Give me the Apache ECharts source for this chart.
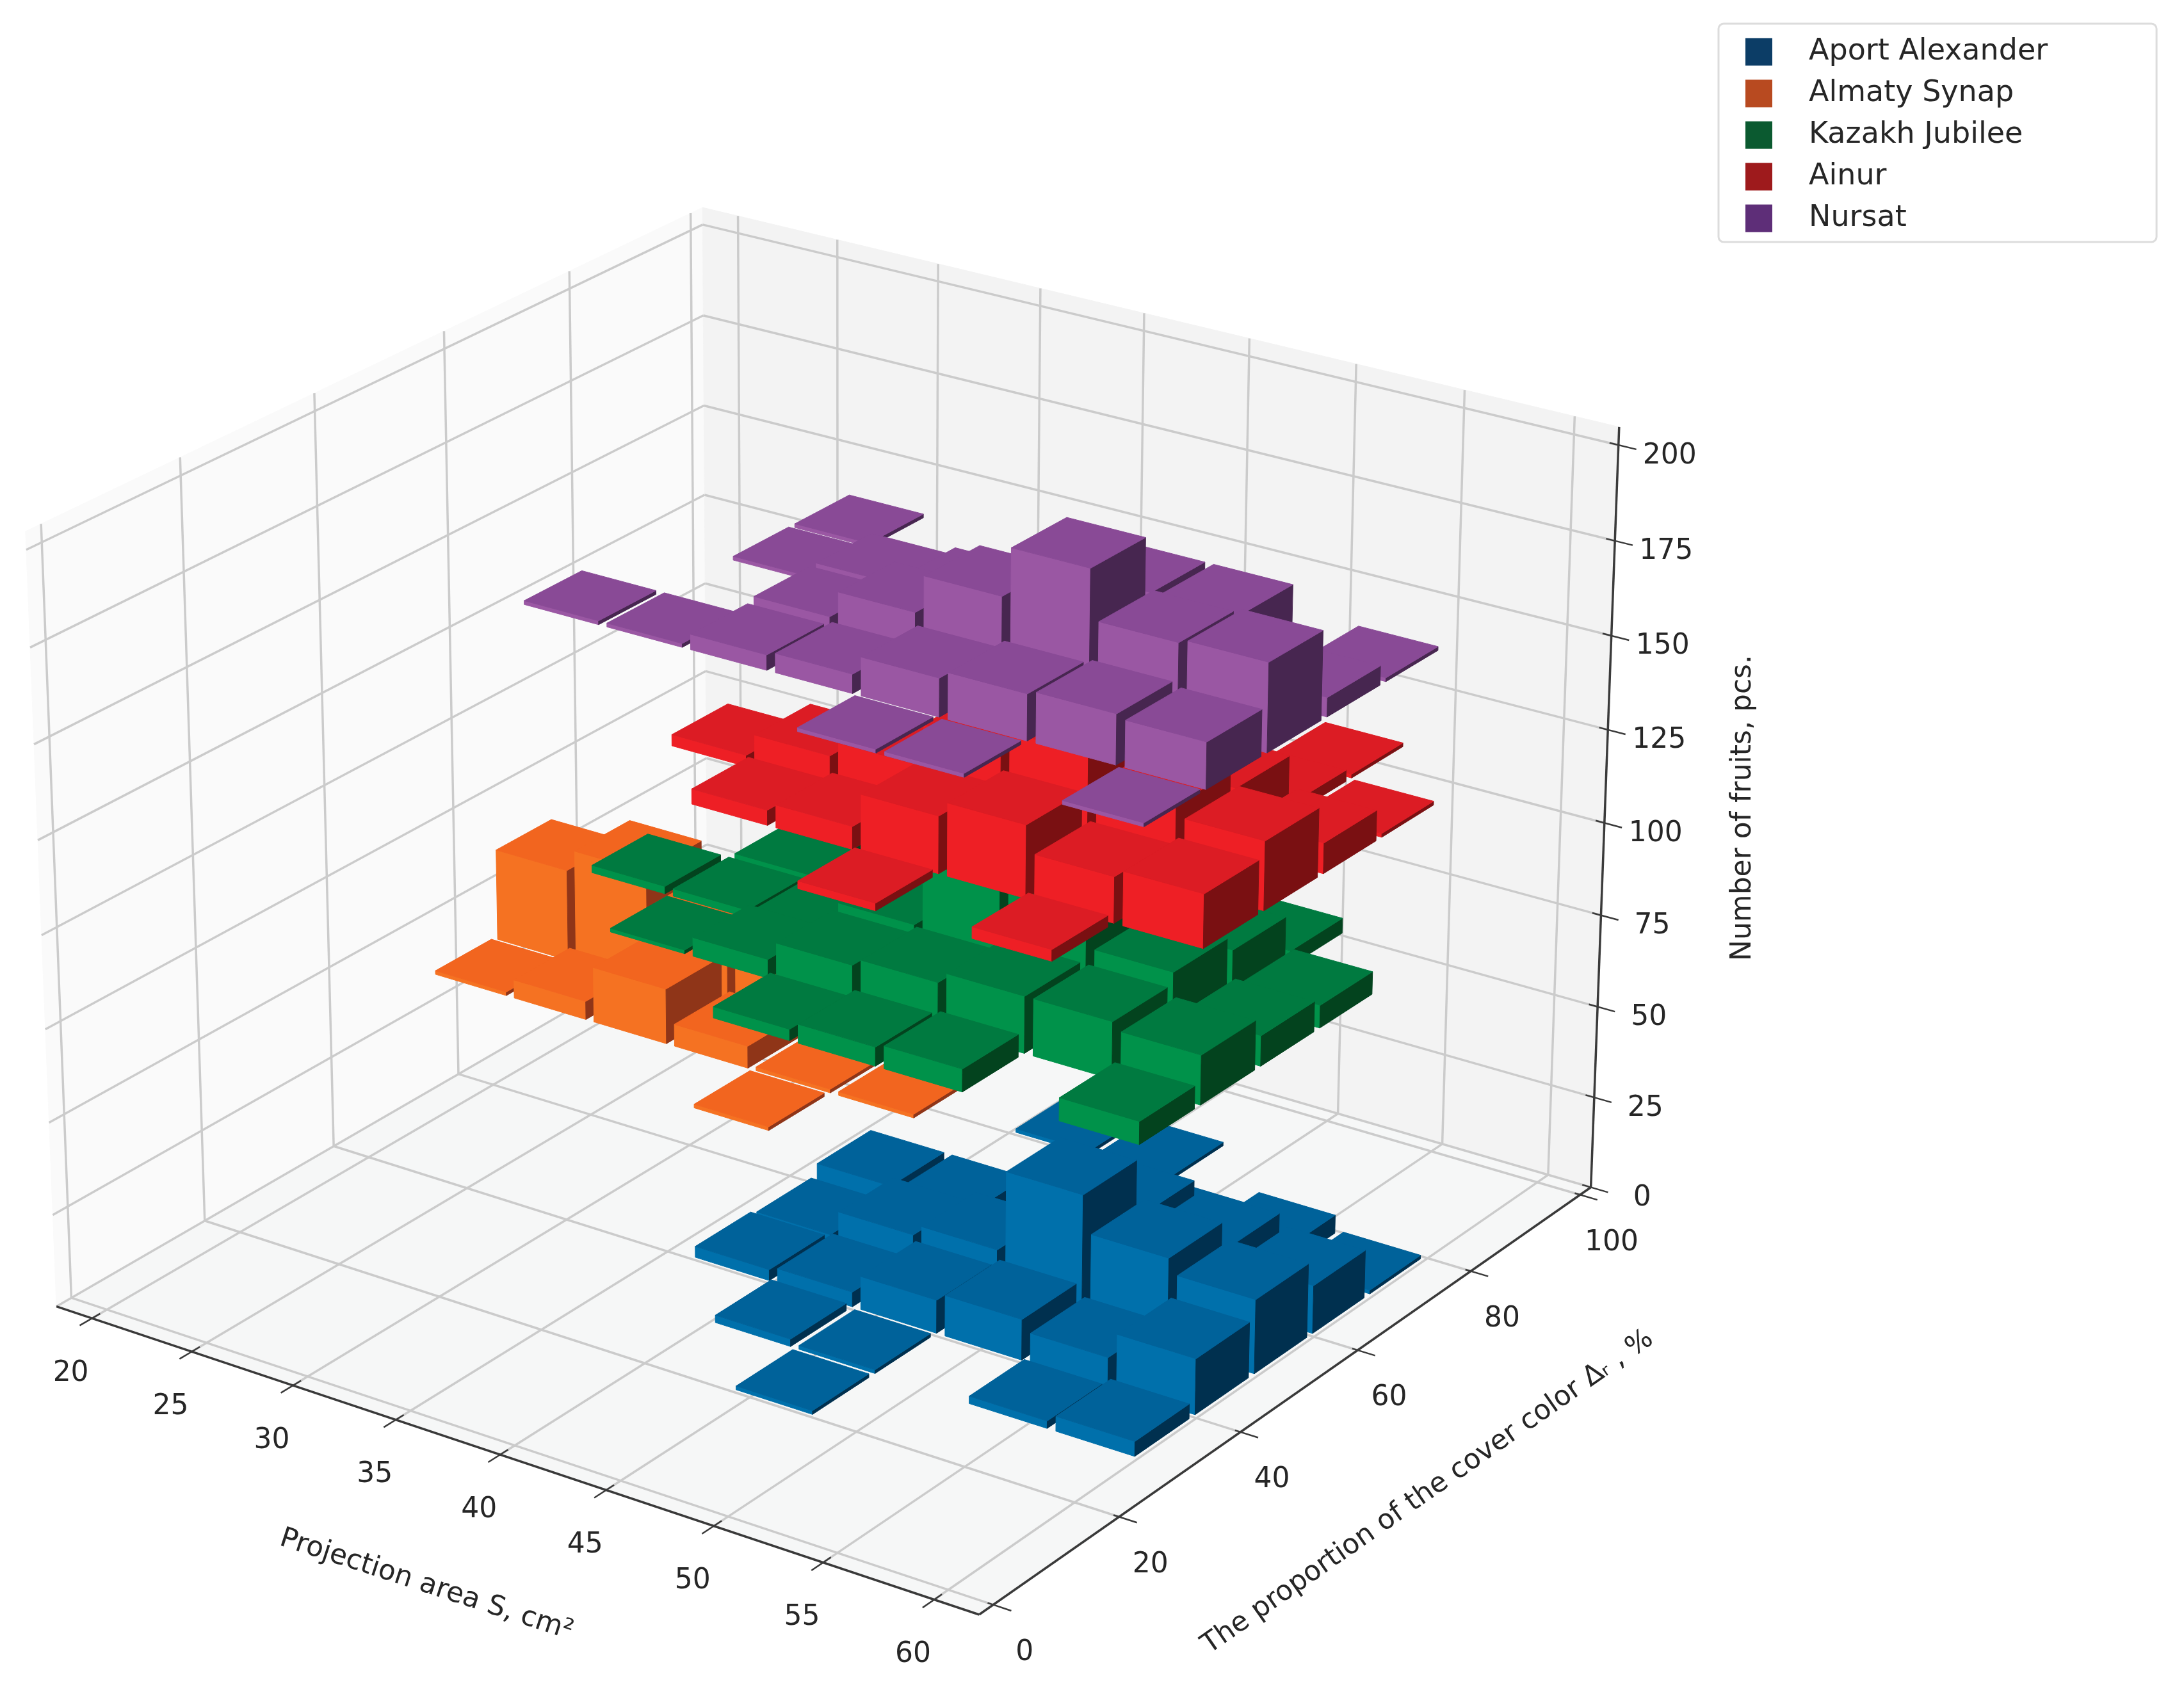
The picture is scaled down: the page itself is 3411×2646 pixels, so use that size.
<!DOCTYPE html>
<html><head><meta charset="utf-8"><style>html,body{margin:0;background:#fff}#c{width:3411px;height:2646px}</style>
<script src="https://cdn.jsdelivr.net/npm/echarts@6/dist/echarts.min.js"></script></head><body><div id="c"></div>
<script>
// Histogram bins and axis ticks
const xBinStart=[20,24,28,32,36,40,44,48,52,56];
const yBinStart=[0,10,20,30,40,50,60,70,80,90];
const xTicks=[20,25,30,35,40,45,50,55,60];
const yTicks=[0,20,40,60,80,100];
const zTicks=[0,25,50,75,100,125,150,175,200];
const varieties=['Aport Alexander','Almaty Synap','Kazakh Jubilee','Ainur','Nursat'];
// Each variety floats on its own level of the vertical axis
const levelBase=[0,41,82,122.5,163];

// Cells per variety: [x bin index, y bin index, number of fruits]
const aportAlexander=[[4,4,3],[4,5,2],[4,6,5],[5,3,2],[5,4,4],[5,5,9],[5,6,5],[5,8,1],[6,2,1],[6,3,1],[6,4,9],[6,5,12],[6,8,1],[7,4,11],[7,5,34],[7,6,18],[7,7,1],[8,3,2],[8,4,8],[8,5,24],[8,6,16],[8,7,5],[9,3,4],[9,4,15],[9,5,20],[9,6,13],[9,7,1]];
const almatySynap=[[0,5,1],[0,6,25],[1,5,5],[1,6,31],[1,8,3],[2,5,15],[2,6,23],[3,5,6],[3,6,14],[4,4,1],[4,5,1],[5,5,1]];
const kazakhJubilee=[[2,5,2],[3,4,1],[3,5,2],[3,6,2],[4,4,5],[4,5,3],[4,6,2],[5,3,3],[5,4,10],[5,5,11],[6,3,5],[6,4,12],[6,5,28],[7,3,6],[7,4,15],[7,5,28],[7,6,10],[8,4,15],[8,5,18],[8,6,14],[8,7,4],[9,3,6],[9,4,13],[9,5,8],[9,6,6]];
const ainur=[[3,5,3],[4,4,4],[4,5,9],[5,4,6],[5,5,13],[6,3,2],[6,4,15],[6,5,24],[7,4,19],[7,5,28],[7,6,12],[8,3,3],[8,4,12],[8,5,21],[8,6,16],[8,7,3],[8,8,1],[9,4,14],[9,5,18],[9,6,8],[9,7,1]];
const nursat=[[2,4,1],[3,4,1],[3,6,1],[3,7,1],[4,4,4],[4,5,5],[4,6,5],[5,4,5],[5,5,12],[5,6,7],[6,3,1],[6,4,10],[6,5,22],[7,3,1],[7,4,12],[7,5,35],[7,6,20],[8,4,13],[8,5,22],[8,6,20],[9,3,1],[9,4,12],[9,5,23],[9,6,5],[9,7,1]];
const cellsByVariety=[aportAlexander,almatySynap,kazakhJubilee,ainur,nursat];

// Shading of a bar: lit top, front face, shaded side; plus the legend swatch
const shades=[
 {top:'#00629a',front:'#0070ab',side:'#00304f',swatch:'#0c3d66'},
 {top:'#f2651f',front:'#f57222',side:'#8f3518',swatch:'#b84a20'},
 {top:'#007a40',front:'#00924a',side:'#03431e',swatch:'#0b5a30'},
 {top:'#dc1c24',front:'#ee1f25',side:'#7a1012',swatch:'#9e1a1c'},
 {top:'#894a96',front:'#9a57a3',side:'#472650',swatch:'#5e2e78'}
];

// Extent of the three panes in data units
const [x0,x1]=[18.2,62],[y0,y1]=[-2.2,102],[z0,z1]=[0,204.7];
const cellFill=0.9;

// Camera calibration: known data points of the box and where they fall on the page
const calib=[[18.2,-2.2,0,87,2040],[62,-2.2,0,1529,2523],[62,102,0,2483,1852],[18.2,-2.2,204.7,42,823],[18.2,102,204.7,1098,323],[62,102,204.7,2530,669],
[20,-2.2,0,146,2061],[60,-2.2,0,1458,2498],[62,0,0,1550,2507],[62,100,0,2472,1864],[62,102,200,2528,696],[18.2,102,200,1098,353],[18.2,102,100,1099,911],[18.2,102,150,1098,634],[18.2,-2.2,200,42,860],
[25,20,0,531,1977],[40,20,0,1008,2130],[55,20,0,1507,2292],[62,20,0,1745,2369],[18.2,60,0,716,1677],[18.2,60,204.7,692,517],[18.2,20,204.7,279,716]];
const nx=x=>(x-40)/22,ny=y=>(y-50)/52,nz=z=>(z-100)/100;
function solve(M,b){const n=b.length;for(let i=0;i<n;i++){let p=i;for(let r=i+1;r<n;r++)if(Math.abs(M[r][i])>Math.abs(M[p][i]))p=r;[M[i],M[p]]=[M[p],M[i]];[b[i],b[p]]=[b[p],b[i]];for(let r=i+1;r<n;r++){const k=M[r][i]/M[i][i];for(let c=i;c<n;c++)M[r][c]-=k*M[i][c];b[r]-=k*b[i]}}const s=Array(n).fill(0);for(let i=n-1;i>=0;i--){let t=b[i];for(let c=i+1;c<n;c++)t-=M[i][c]*s[c];s[i]=t/M[i][i]}return s}
const rows=[],rhs=[];
calib.forEach(a=>{const X=[nx(a[0]),ny(a[1]),nz(a[2]),1],u=a[3]/1000,v=a[4]/1000;
 rows.push([...X,0,0,0,0,...X.slice(0,3).map(q=>-u*q)]);rhs.push(u);
 rows.push([0,0,0,0,...X,...X.slice(0,3).map(q=>-v*q)]);rhs.push(v)});
const h=solve(Array.from({length:11},(_,i)=>Array.from({length:11},(_,j)=>rows.reduce((s,r)=>s+r[i]*r[j],0))),Array.from({length:11},(_,i)=>rows.reduce((s,r,k)=>s+r[i]*rhs[k],0)));
// Projects a data point (x, y, z) to page pixels
function P(x,y,z){const X=nx(x),Y=ny(y),Z=nz(z),d=h[8]*X+h[9]*Y+h[10]*Z+1;return [1000*(h[0]*X+h[1]*Y+h[2]*Z+h[3])/d,1000*(h[4]*X+h[5]*Y+h[6]*Z+h[7])/d]}

const FONT='"DejaVu Sans"';
const GRID='#cbcbcb',AXIS='#3a3a3a',INK='#262626';
const seg=(a,b,c,w)=>({type:'line',shape:{x1:a[0],y1:a[1],x2:b[0],y2:b[1]},style:{stroke:c,lineWidth:w}});
const face=(pts,c)=>({type:'polygon',shape:{points:pts},style:{fill:c,stroke:c,lineWidth:1}});
const label=(t,p,dx,dy,size,rot)=>({type:'text',x:p[0]+dx,y:p[1]+dy,rotation:rot||0,style:{text:t,x:0,y:0,align:'center',verticalAlign:'middle',fontFamily:FONT,fontSize:size,fill:INK}});

// Panes, grid, axis lines, ticks and all axis text
function drawFrame(){
 const c=[];
 c.push(face([P(x0,y0,z0),P(x1,y0,z0),P(x1,y1,z0),P(x0,y1,z0)],'#f6f7f7'));
 c.push(face([P(x0,y0,z0),P(x0,y1,z0),P(x0,y1,z1),P(x0,y0,z1)],'#fafafa'));
 c.push(face([P(x0,y1,z0),P(x1,y1,z0),P(x1,y1,z1),P(x0,y1,z1)],'#f3f3f3'));
 xTicks.forEach(t=>{c.push(seg(P(t,y0,0),P(t,y1,0),GRID,3.5),seg(P(t,y1,0),P(t,y1,z1),GRID,3.5))});
 yTicks.forEach(t=>{c.push(seg(P(x1,t,0),P(x0,t,0),GRID,3.5),seg(P(x0,t,0),P(x0,t,z1),GRID,3.5))});
 zTicks.forEach(t=>{c.push(seg(P(x0,y0,t),P(x0,y1,t),GRID,3.5),seg(P(x0,y1,t),P(x1,y1,t),GRID,3.5))});
 c.push(seg(P(x0,y0,0),P(x1,y0,0),AXIS,3.5),seg(P(x1,y0,0),P(x1,y1,0),AXIS,3.5),seg(P(x1,y1,0),P(x1,y1,z1),AXIS,3.5));
 xTicks.forEach(t=>{c.push(seg(P(t,y0-1.8,0),P(t,y0+1.2,0),AXIS,2.5),label(String(t),P(t,y0,0),-33,86,44))});
 yTicks.forEach(t=>{c.push(seg(P(x1+.8,t,0),P(x1-.25,t,0),AXIS,2.5),label(String(t),P(x1,t,0),49,75,44))});
 zTicks.forEach(t=>{c.push(seg(P(x1+.8,y1,t),P(x1-.4,y1,t),AXIS,2.5),label(String(t),P(x1,y1,t),80,17,44))});
 c.push(label('Projection area S, cm²',[666,2476],0,0,43.5,-18*Math.PI/180));
 c.push(label('The proportion of the cover color Δᵣ , %',[2230,2331],0,0,43.2,35*Math.PI/180));
 c.push(label('Number of fruits, pcs.',[2723,1262],0,0,44,Math.PI/2));
 return {type:'group',children:c};
}

// Far cells first, so that nearer bars paint over them
const farFirst=cells=>cells.slice().sort((a,b)=>(a[0]-b[0])||(b[1]-a[1]));

function barRenderer(k){
 return function(params,api){
  const i=api.value(0),j=api.value(1),n=api.value(2),s=shades[k];
  const w=(xBinStart[1]-xBinStart[0])*cellFill/2,d=(yBinStart[1]-yBinStart[0])*cellFill/2;
  const cx=xBinStart[i]+(xBinStart[1]-xBinStart[0])/2,cy=yBinStart[j]+(yBinStart[1]-yBinStart[0])/2;
  const a=cx-w,b=cx+w,f=cy-d,g=cy+d,lo=levelBase[k],hi=lo+n;
  return {type:'group',children:[
   face([P(a,f,lo),P(b,f,lo),P(b,f,hi),P(a,f,hi)],s.front),
   face([P(b,f,lo),P(b,g,lo),P(b,g,hi),P(b,f,hi)],s.side),
   face([P(a,f,hi),P(b,f,hi),P(b,g,hi),P(a,g,hi)],s.top)
  ]};
 };
}

const chart=echarts.init(document.getElementById('c'));
chart.setOption({
 animation:false,
 legend:{
  left:2684,top:37,orient:'vertical',selectedMode:false,
  data:varieties.map((name,k)=>({name,itemStyle:{color:shades[k].swatch}})),
  icon:'rect',itemWidth:42,itemHeight:43,itemGap:19,
  padding:[21,170,14,42],
  borderColor:'#dcdcdc',borderWidth:3,borderRadius:8,backgroundColor:'#fff',
  textStyle:{fontFamily:FONT,fontSize:46,color:INK,padding:[0,0,0,52]}
 },
 series:[
  {type:'custom',name:'frame',coordinateSystem:'none',silent:true,z:1,data:[[0]],renderItem:()=>drawFrame()},
  ...varieties.map((name,k)=>({
   type:'custom',name,coordinateSystem:'none',silent:true,z:2+k,
   itemStyle:{color:shades[k].swatch},
   dimensions:['xBin','yBin','count'],
   data:farFirst(cellsByVariety[k]),
   renderItem:barRenderer(k)
  }))
 ]
});
</script></body></html>
